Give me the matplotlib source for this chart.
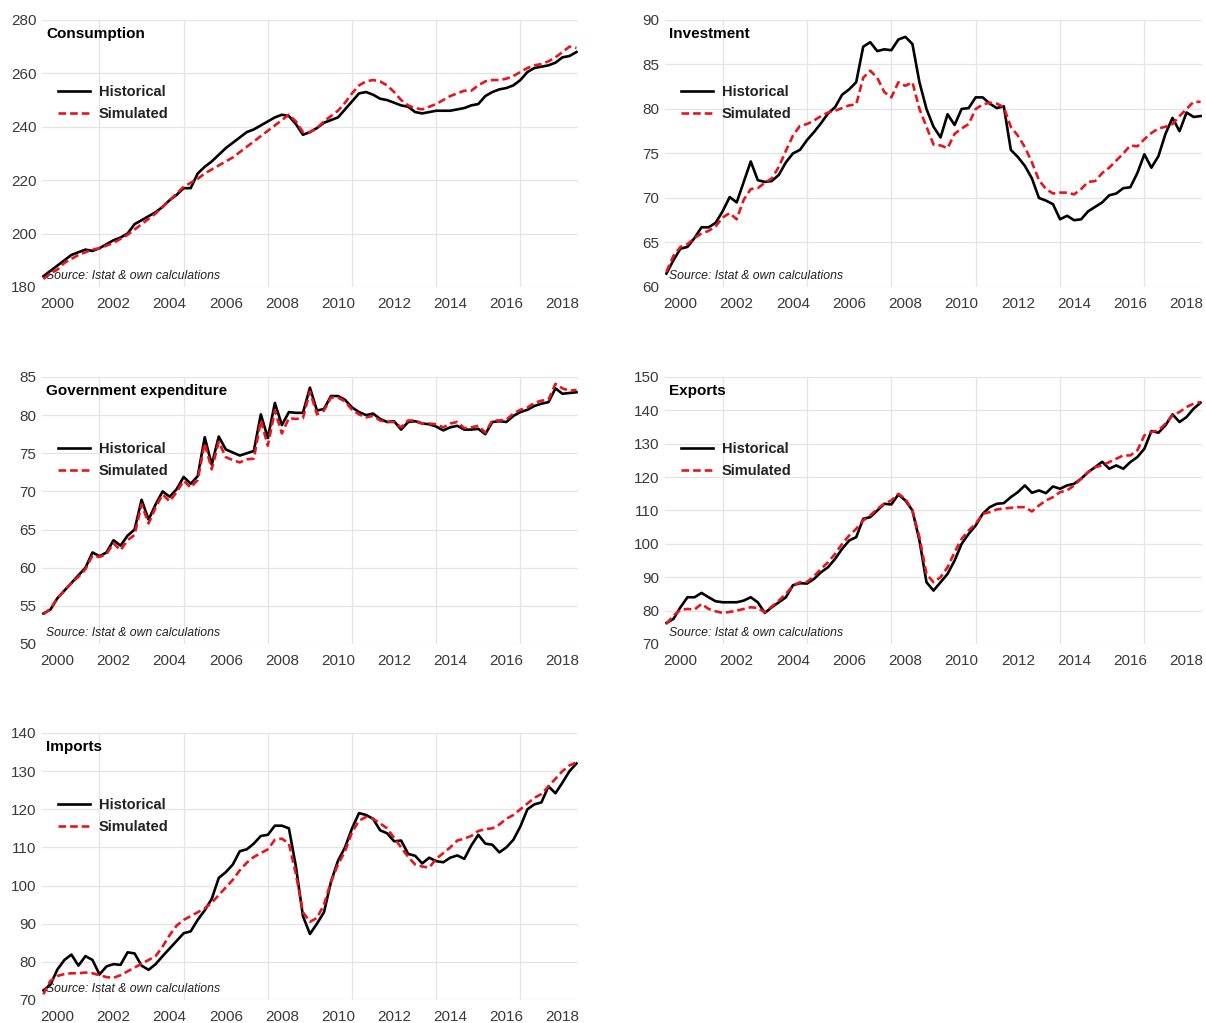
"""Historical vs simulated quarterly national accounts aggregates (Italy).

Five panels: consumption, investment, government expenditure, exports, imports.
Quarterly series run 1999Q3 - 2018Q3, one row per year in the lists below.
"""

import matplotlib
matplotlib.use('Agg')
import matplotlib.pyplot as plt
import numpy as np
import pandas as pd

# --- data ----------------------------------------------------------------
QUARTERS = pd.period_range('1999Q3', '2018Q3', freq='Q')

consumption_hist = [
    184, 186,
    188, 190, 192, 193,
    194, 193.5, 194.5, 196,
    197.5, 198.5, 200, 203.5,
    205, 206.5, 208, 210,
    212.5, 214.5, 217, 217,
    222.5, 225, 227, 229.5,
    232, 234, 236, 238,
    239, 240.5, 242, 243.5,
    244.5, 244, 241, 237,
    238, 239.5, 241.5, 242.5,
    243.5, 246.5, 249.5, 252.5,
    253, 252, 250.5, 250,
    249, 248, 247.5, 245.5,
    245, 245.5, 246, 246,
    246, 246.5, 247, 248,
    248.5, 251.5, 253, 254,
    254.5, 255.5, 257.5, 260.5,
    262, 262.5, 263, 264,
    266, 266.5, 268,
]
consumption_sim = [
    183, 185,
    186.5, 189, 190.5, 192,
    193, 194, 194.5, 195.5,
    196.5, 198, 199.5, 201.5,
    203.5, 205.5, 207.5, 210,
    212.5, 215, 217.5, 219,
    220.5, 222.5, 224, 225.5,
    227, 228.5, 230.5, 232.5,
    234.5, 236.5, 238.5, 240.5,
    242.5, 244.5, 242, 238,
    238, 239.5, 242, 244,
    246, 249, 252.5, 255.5,
    257, 257.5, 257, 255.5,
    253, 250, 248, 247,
    246.5, 247.5, 248.5, 250,
    251.5, 252.5, 253.5, 253.5,
    255.5, 257, 257.5, 257.5,
    258, 259, 260.5, 262,
    263, 263.5, 264.5, 266,
    268, 270, 269.5,
]

investment_hist = [
    61.5, 63,
    64.3, 64.5, 65.5, 66.7,
    66.7, 67.2, 68.5, 70.1,
    69.5, 71.8, 74.1, 72.0,
    71.8, 71.9, 72.6, 74,
    75, 75.4, 76.5, 77.4,
    78.4, 79.5, 80.2, 81.6,
    82.2, 83, 87, 87.5,
    86.5, 86.7, 86.6, 87.8,
    88.1, 87.3, 83, 80,
    78, 76.8, 79.4, 78.2,
    80, 80.1, 81.3, 81.3,
    80.6, 80.1, 80.3, 75.4,
    74.6, 73.6, 72.2, 70,
    69.7, 69.3, 67.6, 68,
    67.5, 67.6, 68.5, 69,
    69.5, 70.3, 70.5, 71.1,
    71.2, 72.8, 74.9, 73.4,
    74.7, 77.2, 79, 77.5,
    79.6, 79.1, 79.2,
]
investment_sim = [
    61.7, 63.5,
    64.5, 64.8, 65.5, 66,
    66.3, 66.8, 67.8, 68.3,
    67.6, 69.8, 71.0, 71.1,
    71.7, 72.2, 73.5, 75.3,
    77, 78.1, 78.3, 78.7,
    79.2, 79.6, 79.8, 80.1,
    80.4, 80.5, 83.5, 84.3,
    83.5, 81.9, 81.3, 83,
    82.6, 83, 80, 78,
    76, 75.9, 75.6, 77.2,
    77.8, 78.3, 80, 80.5,
    80.7, 80.6, 80.2, 78,
    77, 75.7, 74, 72,
    71, 70.5, 70.6, 70.6,
    70.4, 71, 71.8, 71.9,
    72.8, 73.4, 74.2, 75,
    75.9, 75.8, 76.6, 77.3,
    77.8, 78, 78.3, 79.2,
    80, 80.8, 80.8,
]

government_hist = [
    54, 54.5,
    56, 57, 58, 59,
    60, 62, 61.5, 62,
    63.6, 62.9, 64.2, 65,
    68.9, 66.3, 68.3, 70,
    69.3, 70.3, 71.9, 71,
    72, 77.1, 73.5, 77.2,
    75.5, 75.1, 74.7, 75,
    75.3, 80.1, 77, 81.6,
    78.7, 80.4, 80.3, 80.3,
    83.6, 80.6, 80.8, 82.5,
    82.5, 82, 81, 80.4,
    80, 80.2, 79.5, 79.1,
    79.2, 78.1, 79.1, 79.2,
    78.9, 78.8, 78.5, 78,
    78.4, 78.6, 78.1, 78.1,
    78.2, 77.5, 79.1, 79.2,
    79.1, 79.9, 80.4, 80.7,
    81.2, 81.5, 81.7, 83.5,
    82.8, 82.9, 83,
]
government_sim = [
    53.9, 54.6,
    56, 57, 58, 58.8,
    59.8, 61.6, 61.4, 61.8,
    63.2, 62.3, 63.6, 64.3,
    68.3, 65.8, 67.9, 69.6,
    68.7, 69.9, 71.4, 70.5,
    71.5, 76.3, 72.9, 76.5,
    74.5, 74.1, 73.8, 74.2,
    74.3, 79.3, 76, 80.6,
    77.6, 79.6, 79.5, 79.6,
    83.1, 80.1, 80.6, 82.3,
    82.3, 81.8, 80.7, 80.1,
    79.7, 79.9, 79.3, 79.1,
    79.1, 78.4, 79.3, 79.3,
    78.9, 78.9, 78.8, 78.4,
    78.9, 79.1, 78.3, 78.4,
    78.6, 77.7, 79.3, 79.3,
    79.4, 80.2, 80.7, 81,
    81.6, 81.9, 82, 84.1,
    83.5, 83.2, 83.3,
]

exports_hist = [
    76.3, 77.5,
    81, 84, 84, 85.3,
    84, 82.8, 82.5, 82.5,
    82.5, 83, 84, 82.5,
    79.3, 81, 82.5, 84,
    87.6, 88.2, 88.1, 89.5,
    91.5, 93, 95.5, 98.5,
    101, 102, 107.5, 108,
    110, 112, 111.8, 114.8,
    113, 110, 101, 88.5,
    86, 88.5, 91, 95,
    100, 103, 105.5, 109,
    111, 112, 112.2, 114,
    115.5, 117.5, 115.3, 116,
    115.2, 117.2, 116.5, 117.5,
    118, 119.5, 121.5, 123,
    124.6, 122.5, 123.5, 122.5,
    124.5, 126, 128.5, 133.8,
    133.3, 135.5, 138.8, 136.5,
    138, 140.5, 142.3,
]
exports_sim = [
    76, 78.5,
    80.2, 80.5, 80.3, 82,
    80.5, 79.8, 79.3, 79.6,
    80, 80.5, 81, 80.8,
    79.5, 81.2, 83, 85,
    87.5, 88.5, 88.6, 90.3,
    92.5, 94.5, 97, 100,
    102.5, 104.5, 107, 108.5,
    110.5, 112, 113, 115,
    113.5, 110, 102, 91,
    88.5, 90, 93, 97.5,
    101.5, 104, 106, 109,
    109.5, 110.3, 110.6, 110.8,
    111, 111, 109.7, 111.5,
    113, 114, 115.5, 116,
    117.5, 119.5, 121.5, 123,
    123.5, 124.5, 125.5, 126.5,
    126.5, 128, 132.5, 133.5,
    134, 136, 138.5, 139.5,
    141, 142, 142.5,
]

imports_hist = [
    72.5, 74,
    78, 80.5, 81.9, 79,
    81.5, 80.5, 76.7, 78.8,
    79.4, 79.2, 82.5, 82.2,
    79, 77.9, 79.4, 81.5,
    83.5, 85.5, 87.5, 88,
    91, 93.5, 96.5, 102,
    103.5, 105.5, 109, 109.5,
    111, 113, 113.3, 115.7,
    115.7, 115, 105, 92,
    87.3, 90, 93, 101,
    106.5, 110, 115, 119,
    118.5, 117.5, 114.5, 113.7,
    111.6, 111.8, 108.3, 107.8,
    105.8, 107.3, 106.4, 106.1,
    107.3, 107.9, 107, 110.5,
    113.3, 111, 110.7, 108.7,
    110, 112, 115.5, 120,
    121.3, 121.8, 126, 124.2,
    127, 130, 132,
]
imports_sim = [
    71.5, 75,
    76.3, 76.8, 77, 77,
    77.2, 77, 76.5, 76,
    75.8, 76.5, 77.5, 78.5,
    79.5, 80.5, 81.5, 84,
    87, 89.5, 91, 92,
    93, 94, 95.5, 97.5,
    99.5, 101.5, 104, 106,
    107.5, 108.5, 109.5, 112,
    112.3, 111, 103, 93,
    90.5, 91.5, 95, 101,
    105.5, 109, 114, 117,
    118, 117.5, 116.3, 115,
    112.5, 110, 107.5, 105.5,
    105, 104.7, 107, 108.5,
    110, 111.8, 112.3, 113,
    114.3, 114.8, 115, 116,
    117.5, 118.5, 120, 121.5,
    123, 124, 126, 128,
    130, 131.5, 132.3,
]

titles = ['Consumption', 'Investment', 'Government expenditure', 'Exports', 'Imports']
y_limits = [(180, 280, 20), (60, 90, 5), (50, 85, 5), (70, 150, 10), (70, 140, 10)]
year_ticks = list(range(2000, 2019, 2))
source_note = 'Source: Istat & own calculations'

# --- styling ---------------------------------------------------------------
FONT = 'Liberation Sans'
RED = '#e8161c'
GRID = '#e4e4e4'
TICK_COLOR = '#3a3a3a'


def draw_panel(ax, x, hist, sim, title, ylim):
    lo, hi, step = ylim
    ax.plot(x, hist, color='black', lw=1.9, label='Historical', zorder=3)
    ax.plot(x, sim, color=RED, lw=1.9, dashes=(2.9, 1.5), label='Simulated', zorder=4)

    ax.set_xlim(1999.45, 2018.55)
    ax.set_ylim(lo, hi)
    ax.set_yticks(np.arange(lo, hi + step / 2, step))
    ax.set_xticks(year_ticks)
    ax.set_xticklabels([str(y) for y in year_ticks])

    # horizontal grid at every y tick, vertical grid every 12 quarters
    for yv in np.arange(lo, hi + step / 2, step):
        ax.axhline(yv, color=GRID, lw=0.9, zorder=0)
    for xv in np.arange(2001.5, 2018.6, 3):
        ax.axvline(xv, color=GRID, lw=0.9, zorder=0)

    for side in ('top', 'right', 'bottom', 'left'):
        ax.spines[side].set_visible(False)
    ax.tick_params(axis='both', length=0, labelsize=11, colors=TICK_COLOR)
    ax.tick_params(axis='x', pad=7)
    ax.tick_params(axis='y', pad=4)
    for lab in ax.get_xticklabels() + ax.get_yticklabels():
        lab.set_fontfamily(FONT)

    ax.text(0.008, 0.947, title, transform=ax.transAxes, fontsize=11,
            fontweight='bold', family=FONT, va='center', ha='left')
    ax.text(0.008, 0.04, source_note, transform=ax.transAxes, fontsize=8.8,
            style='italic', family=FONT, va='center', ha='left', color='#222222')

    leg = ax.legend(loc='upper left', bbox_to_anchor=(0.03, 0.755), frameon=False,
                    handlelength=2.2, handletextpad=0.6, labelspacing=0.55,
                    borderpad=0, borderaxespad=0,
                    prop={'family': FONT, 'size': 10.5, 'weight': 'bold'})
    for t in leg.get_texts():
        t.set_color('#222222')


x = np.array([p.year + (p.quarter - 1) / 4 for p in QUARTERS])
series = [
    (consumption_hist, consumption_sim),
    (investment_hist, investment_sim),
    (government_hist, government_sim),
    (exports_hist, exports_sim),
    (imports_hist, imports_sim),
]
for h, s in series:
    assert len(h) == len(x) and len(s) == len(x)

fig = plt.figure(figsize=(12.06, 10.23), dpi=100)
col_left = [0.0348, 0.5514]
col_width = [0.4444, 0.4453]
row_bottom = [0.7195, 0.3705, 0.0225]
row_height = 0.261

for i, ((h, s), title, ylim) in enumerate(zip(series, titles, y_limits)):
    r, c = divmod(i, 2)
    ax = fig.add_axes([col_left[c], row_bottom[r], col_width[c], row_height])
    draw_panel(ax, x, h, s, title, ylim)

fig.savefig('out.png', dpi=100)
